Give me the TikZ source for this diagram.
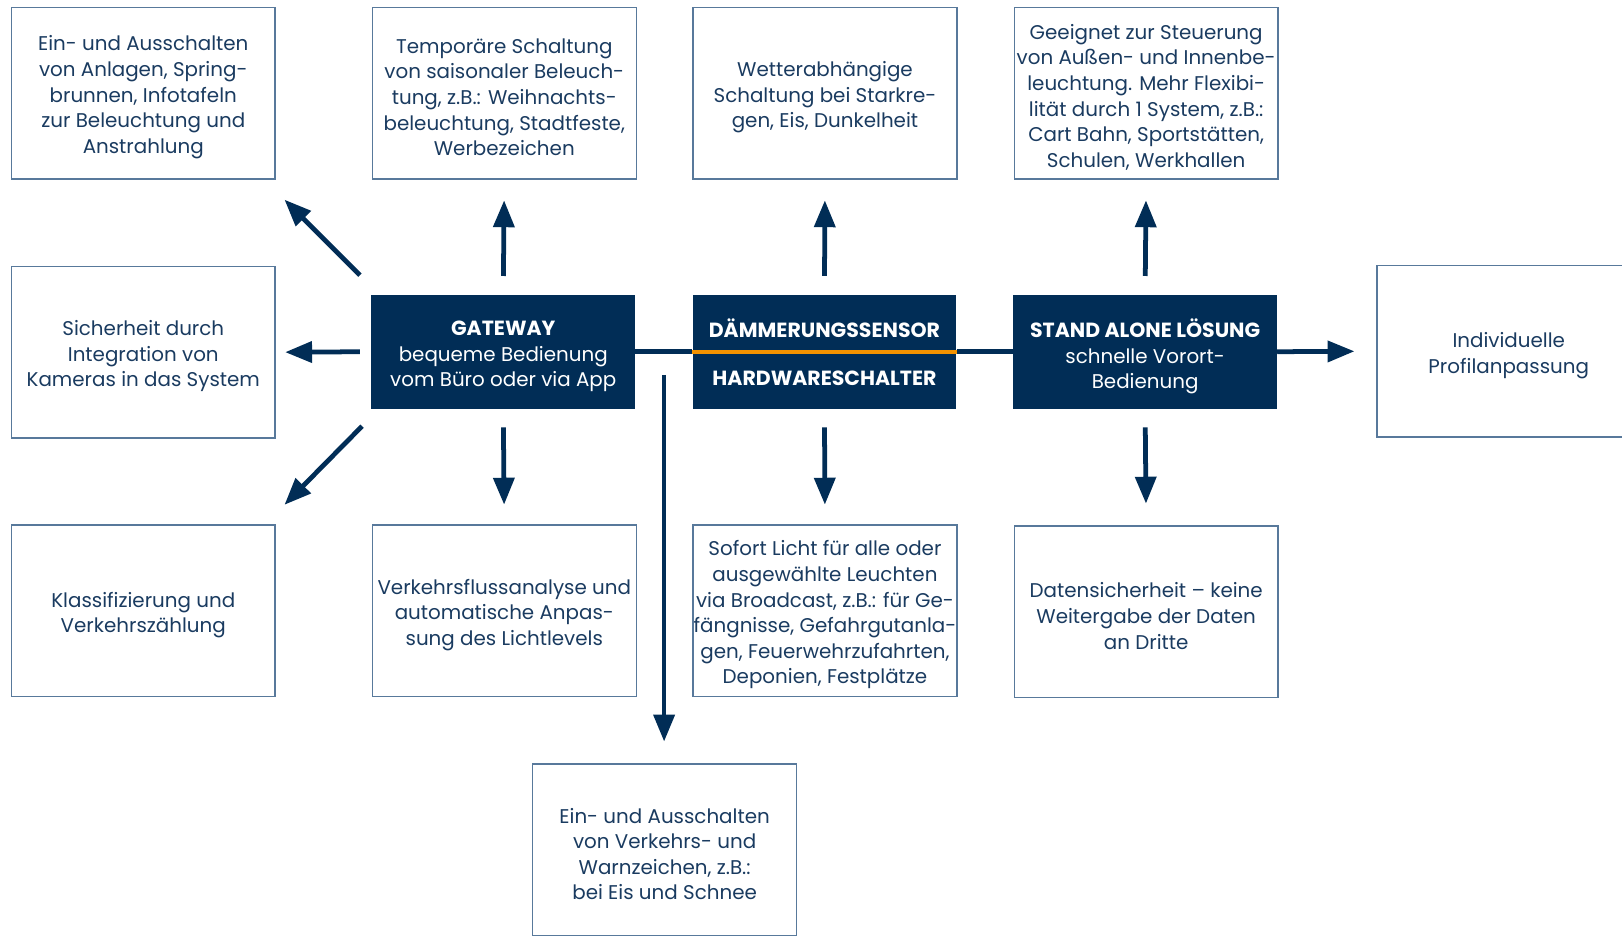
\documentclass[tikz,border=0pt]{standalone}
\usepackage{fontspec}
\setmainfont{Poppins}
\usetikzlibrary{arrows.meta}
\definecolor{navy}{HTML}{012D56}
\definecolor{txt}{HTML}{1A3B60}
\definecolor{frame}{HTML}{58799B}
\definecolor{orng}{HTML}{F39200}
\newcommand\infonode[3]{%
  \node[infobox] (#1) at (#2) {};
  \node[infotext, yshift=-4pt] (#1-t) at (#1) {#3};}
\newcommand\darknode[3]{%
  \node[darkbox] (#1) at (#2) {};
  \node[darktext, yshift=-4.5pt] (#1-t) at (#1) {#3};}
\begin{document}
\begin{tikzpicture}[x=1pt,y=-1pt,
  infobox/.style={draw=frame, line width=1.3pt, minimum width=255pt, minimum height=166pt, inner sep=0pt},
  infotext/.style={align=center, text=txt, font=\fontsize{19.2}{24.75}\selectfont, inner sep=0pt},
  darkbox/.style={fill=navy, minimum width=255pt, minimum height=110pt, inner sep=0pt},
  darktext/.style={align=center, text=white, font=\fontsize{19.2}{24.75}\selectfont, inner sep=0pt},
  darklabel/.style={text=white, font=\fontsize{19.8}{24.75}\selectfont\bfseries, inner sep=0pt},
  arr/.style={draw=navy, line width=4.6pt, -{Triangle[length=26pt,width=20pt]}},
  conn/.style={draw=navy, line width=4.6pt}]
\useasboundingbox (0,0) rectangle (1568,904);

% top row
\infonode{t1}{138.5,90}{Ein- und Ausschalten\\von Anlagen, Spring-\\brunnen, Infotafeln\\zur Beleuchtung und\\Anstrahlung}
\infonode{t2}{487.5,90}{Temporäre Schaltung\\von saisonaler Beleuch-\\tung, z.B.: Weihnachts-\\beleuchtung, Stadtfeste,\\Werbezeichen}
\infonode{t3}{797.5,90}{Wetterabhängige\\Schaltung bei Starkre-\\gen, Eis, Dunkelheit}
\infonode{t4}{1108,90}{Geeignet zur Steuerung\\von Außen- und Innenbe-\\leuchtung. Mehr Flexibi-\\lität durch 1 System, z.B.:\\Cart Bahn, Sportstätten,\\Schulen, Werkhallen}

% middle row
\infonode{m1}{138.5,340.5}{Sicherheit durch\\Integration von\\Kameras in das System}
\darknode{gw}{486.5,340}{{\fontsize{19.8}{24.75}\selectfont\bfseries GATEWAY}\\bequeme Bedienung\\vom Büro oder via App}
\node[darkbox] (ds) at (797,340) {};
\node[darklabel] (ds1) at (797,317) {DÄMMERUNGSSENSOR};
\node[darklabel] (ds2) at (797,366) {HARDWARESCHALTER};
\darknode{sa}{1107,340}{{\fontsize{19.8}{24.75}\selectfont\bfseries STAND ALONE LÖSUNG}\\schnelle Vorort-\\Bedienung}
\infonode{r1}{1458.5,339.5}{Individuelle\\Profilanpassung}

% bottom row
\infonode{b1}{138.5,590.5}{Klassifizierung und\\Verkehrszählung}
\infonode{b2}{487.5,590.5}{Verkehrsflussanalyse und\\automatische Anpas-\\sung des Lichtlevels}
\infonode{b3}{797.5,590.5}{Sofort Licht für alle oder\\ausgewählte Leuchten\\via Broadcast, z.B.: für Ge-\\fängnisse, Gefahrgutanla-\\gen, Feuerwehrzufahrten,\\Deponien, Festplätze}
\infonode{b4}{1108,591.5}{Datensicherheit – keine\\Weitergabe der Daten\\an Dritte}
\infonode{bb}{642.5,821.5}{Ein- und Ausschalten\\von Verkehrs- und\\Warnzeichen, z.B.:\\bei Eis und Schnee}

% connectors between dark boxes
\draw[conn] (gw.east) -- (ds.west);
\draw[conn] (ds.east) -- (sa.west);
\draw[orng, line width=4pt] (ds.west) -- (ds.east);

% arrows from gateway
\draw[arr, shorten <=18pt, shorten >=20pt] (gw.north) -- (t2.south);
\draw[arr, shorten <=18pt, shorten >=19pt] (gw.south) -- (b2.north);
\draw[arr, shorten <=11pt, shorten >=9pt] (gw.west) -- (m1.east);
\coordinate (ulS) at (348,266);
\coordinate (ulE) at (275,193);
\draw[arr] (ulS) -- (ulE);
\coordinate (dlS) at (350,412);
\coordinate (dlE) at (275,488);
\draw[arr] (dlS) -- (dlE);
\coordinate (vS) at (642,362.5);
\draw[arr, shorten >=21pt] (vS) -- (vS |- bb.north);

% arrows from Daemmerungssensor
\draw[arr, shorten <=18pt, shorten >=20pt] (ds.north) -- (t3.south);
\draw[arr, shorten <=18pt, shorten >=19pt] (ds.south) -- (b3.north);

% arrows from stand alone
\draw[arr, shorten <=18pt, shorten >=20pt] (sa.north) -- (t4.south);
\draw[arr, shorten <=18pt, shorten >=21pt] (sa.south) -- (b4.north);
\draw[arr, shorten >=21pt] (sa.east) -- (r1.west);
\end{tikzpicture}
\end{document}
